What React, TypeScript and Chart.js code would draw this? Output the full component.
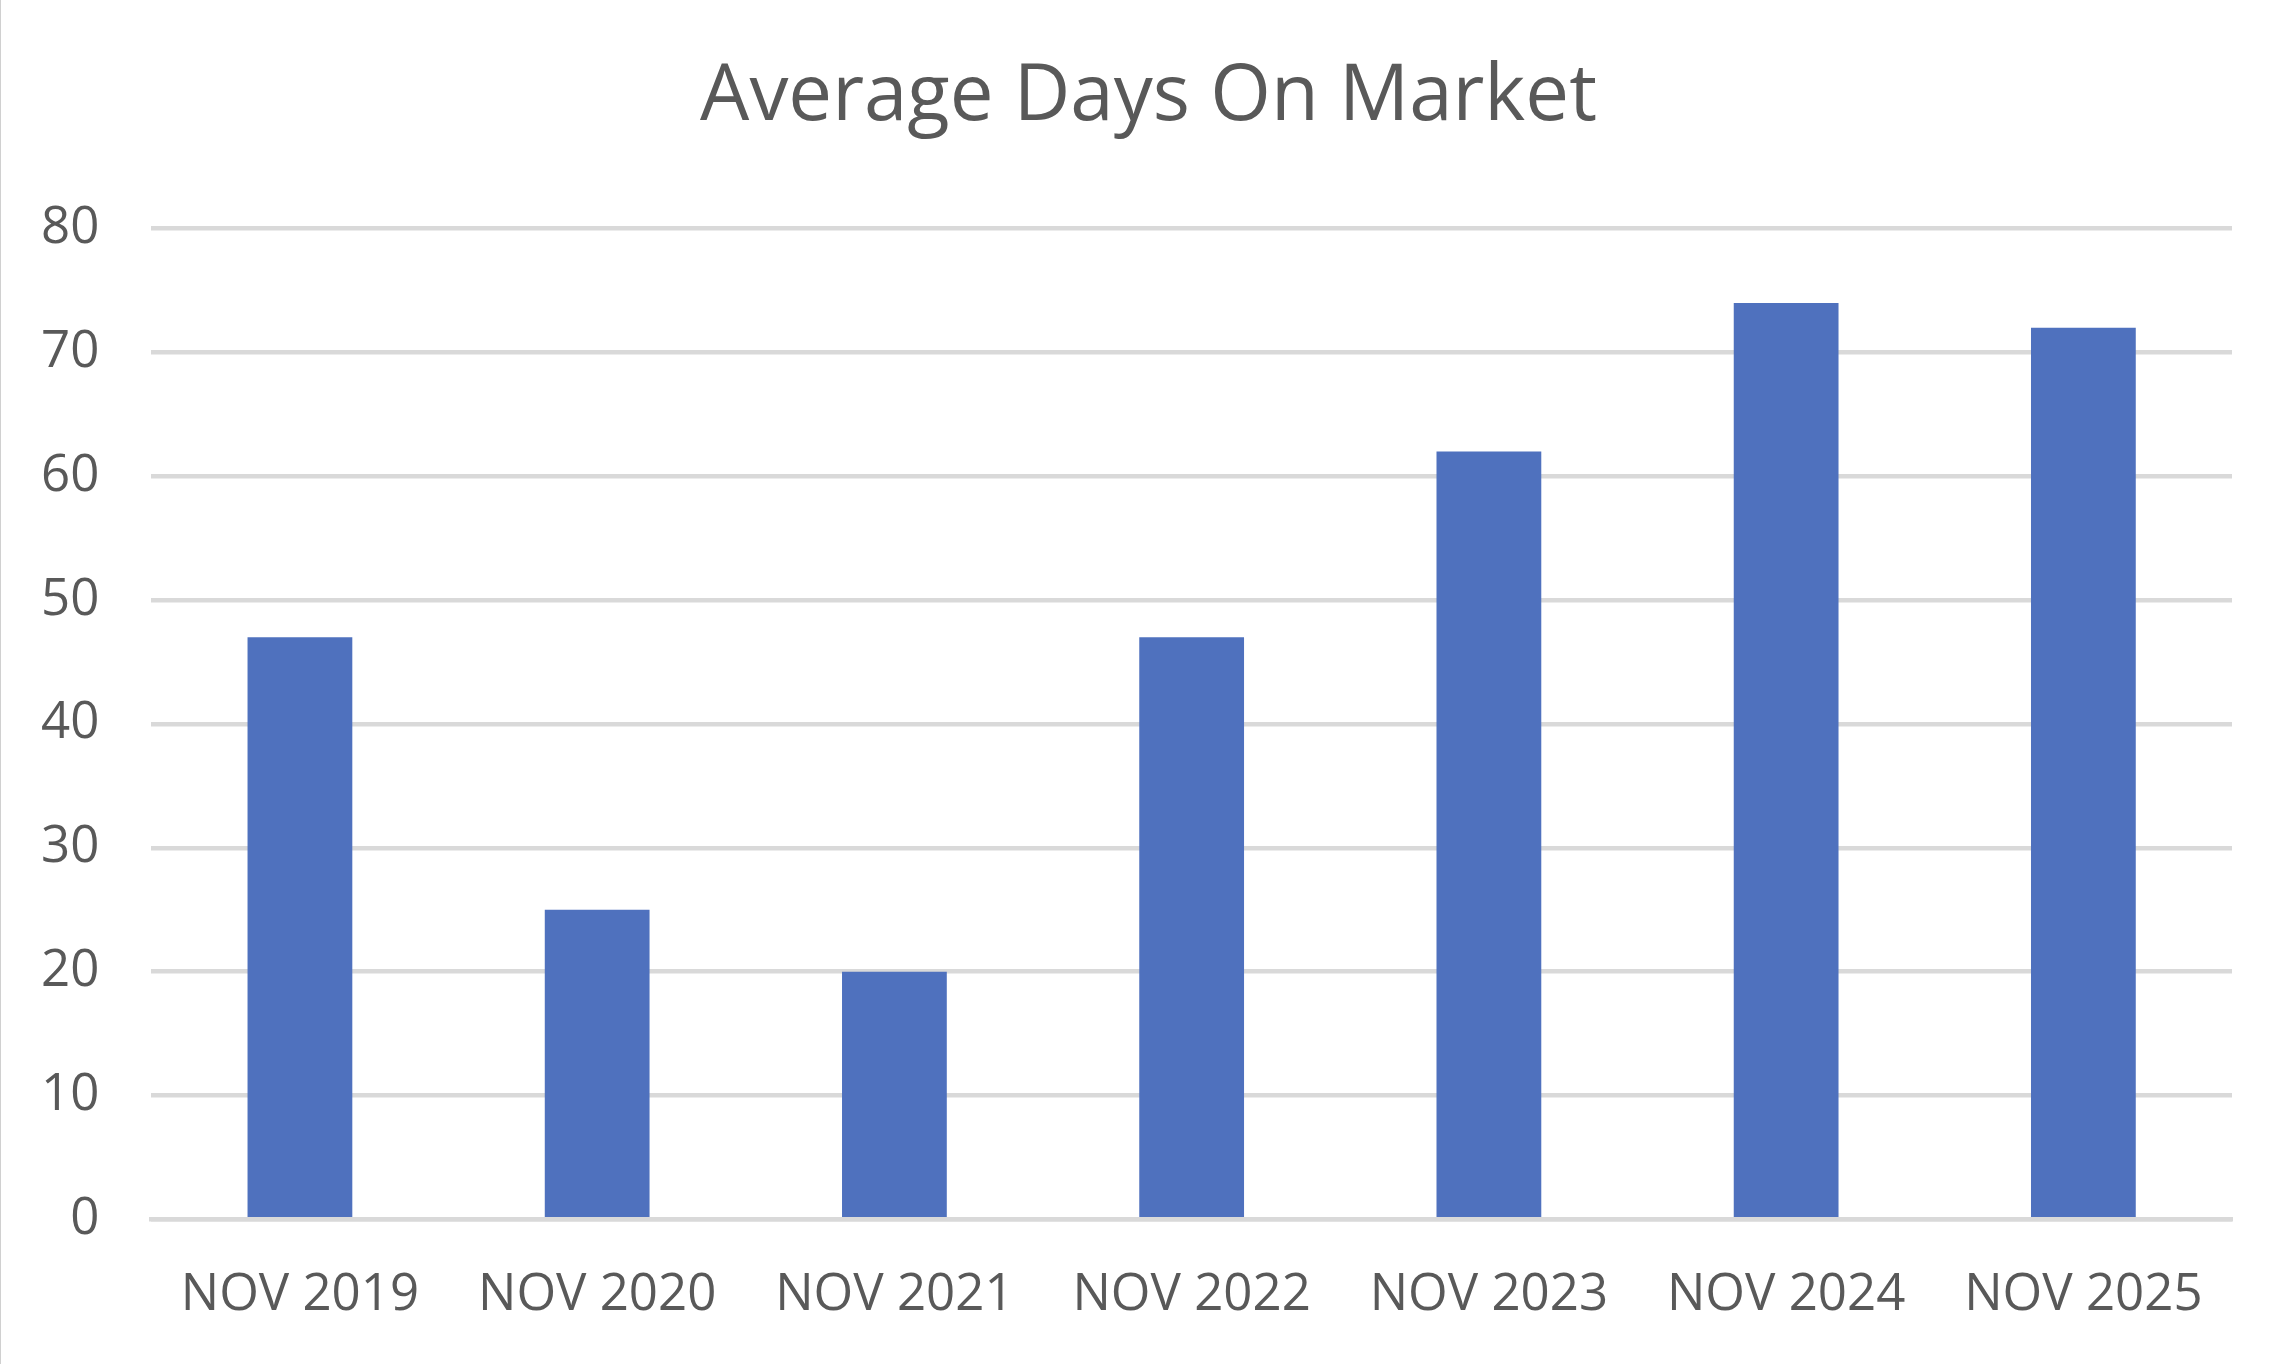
import React, { useEffect, useRef } from "react";
import { Chart, registerables } from "chart.js";

Chart.register(...registerables);

const TITLE = "Average Days On Market";
const categories = ["NOV 2019", "NOV 2020", "NOV 2021", "NOV 2022", "NOV 2023", "NOV 2024", "NOV 2025"];
const daysOnMarket = [47, 25, 20, 47, 62, 74, 72];
const yMin = 0;
const yMax = 80;
const yStep = 10;

const W = 2295;
const H = 1364;

// Centre the title on the whole canvas rather than between the layout paddings.
const centreTitle = {
  id: "centreTitle",
  afterLayout(chart: any) {
    const tb = chart.titleBlock;
    if (tb) {
      tb.left = 0;
      tb.right = chart.width;
      tb.width = chart.width;
    }
  },
};

export default function App() {
  const ref = useRef<HTMLCanvasElement | null>(null);

  useEffect(() => {
    if (!ref.current) return;
    const chart = new Chart(ref.current, {
      type: "bar",
      data: {
        labels: categories,
        datasets: [
          {
            label: TITLE,
            data: daysOnMarket,
            backgroundColor: "#4F71BE",
            borderWidth: 0,
            barPercentage: 0.705,
            categoryPercentage: 0.5,
          },
        ],
      },
      plugins: [centreTitle],
      options: {
        animation: false,
        responsive: false,
        devicePixelRatio: 1,
        layout: { padding: { left: 10, right: 64, top: 0, bottom: 0 } },
        plugins: {
          legend: { display: false },
          tooltip: { enabled: false },
          title: {
            display: true,
            text: TITLE,
            color: "#595959",
            font: { family: "'Open Sans'", size: 78, weight: "normal" },
            padding: { top: 51, bottom: 84 },
          },
        },
        scales: {
          x: {
            z: 1,
            grid: { display: false },
            border: { display: true, color: "#D9D9D9", width: 4.5 },
            ticks: {
              color: "#595959",
              font: { family: "'Open Sans'", size: 51 },
              padding: 38,
              maxRotation: 0,
              autoSkip: false,
            },
            afterFit: (scale: any) => {
              scale.height = 144.7;
            },
          },
          y: {
            min: yMin,
            max: yMax,
            grid: { color: "#D9D9D9", lineWidth: 4.5, drawTicks: false },
            border: { display: false },
            ticks: {
              stepSize: yStep,
              color: "#595959",
              font: { family: "'Open Sans'", size: 51 },
              padding: 52,
            },
            afterFit: (scale: any) => {
              scale.width = 140.3;
            },
          },
        },
      },
    });
    return () => chart.destroy();
  }, []);

  return (
    <div
      style={{
        position: "absolute",
        left: 0,
        top: 0,
        width: W + 1,
        height: H,
        borderLeft: "1px solid #D0D0D0",
        boxSizing: "border-box",
        background: "#fff",
      }}
    >
      <canvas ref={ref} width={W} height={H} style={{ display: "block", width: W, height: H }} />
    </div>
  );
}
